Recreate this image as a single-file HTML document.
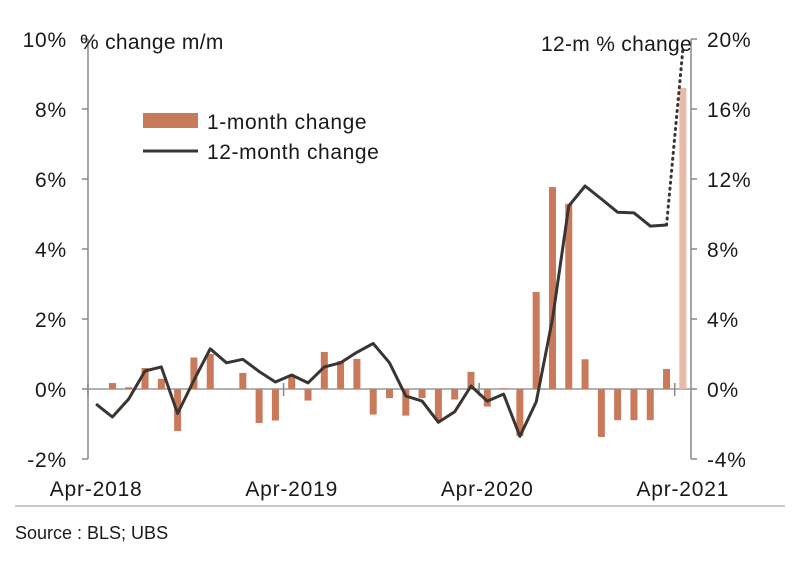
<!DOCTYPE html>
<html><head><meta charset="utf-8"><style>
body{margin:0;background:#fff;}
svg text{font-family:"Liberation Sans",sans-serif;fill:#1a1a1a;}
</style></head><body>
<svg id="chart" width="802" height="575" viewBox="0 0 802 575" xmlns="http://www.w3.org/2000/svg">
<g id="axes"></g><g id="bars"></g><g id="lines"></g>
<g>
<rect x="143" y="113" width="55" height="15" fill="#c87a5a"/>
<text x="207" y="129" font-size="21" letter-spacing="0.6">1-month change</text>
<line x1="143" y1="151" x2="198" y2="151" stroke="#3a3530" stroke-width="3"/>
<text x="207" y="159" font-size="21" letter-spacing="0.6">12-month change</text>
</g>
<text x="80" y="49" font-size="21" letter-spacing="0.3">% change m/m</text>
<text x="692" y="51" font-size="21" letter-spacing="0.3" text-anchor="end">12-m % change</text>
<line x1="15" y1="506" x2="785" y2="506" stroke="#c8c8c8" stroke-width="2"/>
<text x="15" y="539" font-size="18">Source : BLS; UBS</text>
</svg>
<script>
const months = Array.from({length:37},(_,i)=>i);
const monthlyChange = [0,0.17,0.05,0.6,0.29,-1.2,0.9,1.0,0,0.46,-0.97,-0.9,0.36,-0.33,1.06,0.8,0.86,-0.73,-0.26,-0.76,-0.26,-0.89,-0.3,0.49,-0.5,0.02,-1.34,2.77,5.77,5.29,0.85,-1.37,-0.89,-0.89,-0.89,0.57,8.6];
const yoyChange = [-0.86,-1.6,-0.57,1.03,1.26,-1.4,0.5,2.3,1.5,1.7,1.0,0.4,0.8,0.35,1.26,1.5,2.1,2.6,1.5,-0.4,-0.69,-1.9,-1.3,0.17,-0.69,-0.29,-2.7,-0.74,4.0,10.46,11.6,10.86,10.1,10.06,9.31,9.37];
const yoyProjected = 19.4;
const leftTicks = [-2,0,2,4,6,8,10];
const rightTicks = [-4,0,4,8,12,16,20];
const xLabels = ["Apr-2018","Apr-2019","Apr-2020","Apr-2021"];
const xLabelMonths = [0,12,24,36];

const NS="http://www.w3.org/2000/svg";
const x0=88, x1=691, step=(x1-x0)/37;
const xc=m=>x0+step*(m+0.5);
const yL=v=>389-v*35;
const yR=v=>389-v*17.5;
function mk(tag,attrs,parent,txt){const e=document.createElementNS(NS,tag);for(const k in attrs)e.setAttribute(k,attrs[k]);if(txt!==undefined)e.textContent=txt;document.getElementById(parent).appendChild(e);return e;}

let e;
e=mk('line',{x1:x0,y1:39,x2:x0,y2:yL(-2),stroke:'#888','stroke-width':1.5},'axes');


e=mk('line',{x1:x1,y1:39,x2:x1,y2:yL(-2),stroke:'#888','stroke-width':1.5},'axes');


e=mk('line',{x1:x0,y1:389,x2:x1,y2:389,stroke:'#999','stroke-width':1.5},'axes');


leftTicks.forEach(t=>{
  e=mk('line',{x1:x0-6,y1:yL(t),x2:x0,y2:yL(t),stroke:'#888','stroke-width':1.5},'axes');
  
  
  e=mk('text',{x:67,y:yL(t)+8,'font-size':21,'letter-spacing':0.8,'text-anchor':'end'},'axes',t+'%');
  
  
});
rightTicks.forEach(t=>{
  e=mk('line',{x1:x1,y1:yR(t),x2:x1+6,y2:yR(t),stroke:'#888','stroke-width':1.5},'axes');
  
  
  e=mk('text',{x:707,y:yR(t)+8,'font-size':21,'letter-spacing':0.8},'axes',t+'%');
  
  
});
xLabels.forEach((l,i)=>{
  const m=xLabelMonths[i];
  e=mk('line',{x1:x0+step*m,y1:383,x2:x0+step*m,y2:396,stroke:'#888','stroke-width':1.5},'axes');
  
  
  e=mk('text',{x:xc(m),y:496,'font-size':21,'letter-spacing':0.8,'text-anchor':'middle'},'axes',l);
  
  
});
monthlyChange.forEach((v,i)=>{
  const y=Math.min(yL(v),389), h=Math.abs(yL(v)-389);
  e=mk('rect',{x:xc(months[i])-3.5,y:y,width:7,height:Math.max(h,0.5),fill:i===36?'#e8bba8':'#c87a5a'},'bars');
  
  
});
const pts=yoyChange.map((v,i)=>xc(months[i]).toFixed(1)+','+yR(v).toFixed(1)).join(' ');
e=mk('polyline',{points:pts,fill:'none',stroke:'#3a3530','stroke-width':3,'stroke-linejoin':'round'},'lines');


const last=yoyChange.length-1;
e=mk('line',{x1:xc(last),y1:yR(yoyChange[last]),x2:xc(36),y2:yR(yoyProjected),stroke:'#3a3530','stroke-width':3,'stroke-dasharray':'1 5','stroke-linecap':'round'},'lines');


</script>
</body></html>
